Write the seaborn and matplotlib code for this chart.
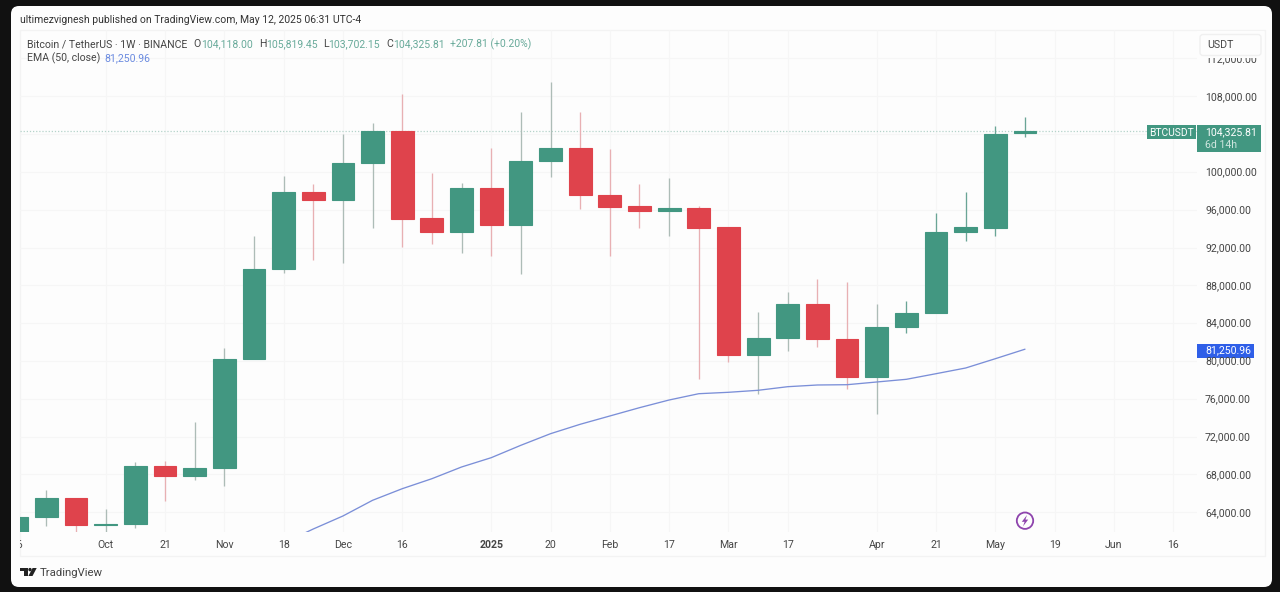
import numpy as np
import pandas as pd
import seaborn as sns
import matplotlib
matplotlib.use("Agg")
import matplotlib.pyplot as plt
from matplotlib.patches import FancyBboxPatch, Rectangle, Circle, Polygon
from matplotlib.transforms import Bbox

# weekly candles, position 0 is the "Oct" bar
weeks = list(range(-3, 32))
opens = [61948, 63471, 65481, 62688, 62762, 68929, 67871, 68654, 80215, 89702, 97846, 97032,
         100945, 104362, 95100, 93616, 98269, 94388, 101157, 102532, 97592, 96366, 95900, 96154,
         94140, 80606, 82436, 86000, 82298, 78310, 83600, 85048, 93616, 94102, 104118.00]
highs = [63503, 66390, 65481, 64381, 69352, 69394, 73519, 81378, 93224, 99539, 98756, 103981,
         105176, 108212, 99920, 98862, 102564, 106340, 109513, 106340, 102395, 98724, 99359, 96429,
         94140, 85186, 87333, 88644, 88391, 86000, 86349, 95625, 97846, 104859, 105819.45]
lows = [61500, 62519, 61948, 61948, 62371, 65227, 67448, 66782, 80215, 89279, 90686, 90400,
        94070, 92092, 92378, 91458, 91109, 89173, 99465, 96080, 91109, 94039, 93256, 78131,
        79866, 76544, 81061, 81484, 77073, 74365, 82996, 85048, 92695, 93256, 103702.15]
closes = [63503, 65481, 62688, 62762, 68929, 67871, 68654, 80246, 89734, 97846, 97032, 100977,
          104362, 95054, 93616, 98269, 94388, 101189, 102532, 97561, 96292, 95900, 96154, 94070,
          80606, 82467, 86000, 82298, 78279, 83631, 85112, 93616, 94144, 103981, 104325.81]

ema_weeks = list(range(6, 32))
ema_values = [60753, 62234, 63609, 65269, 66496, 67554, 68791, 69775, 71087, 72314, 73308, 74186,
              75064, 75878, 76544, 76692, 76904, 77285, 77465, 77496, 77782, 78067, 78660, 79263,
              80246, 81250.96]

price_ticks = [64000, 68000, 72000, 76000, 80000, 84000, 88000, 92000, 96000, 100000, 104000, 108000, 112000]
price_labels = ["64,000.00", "68,000.00", "72,000.00", "76,000.00", "80,000.00", "84,000.00", "88,000.00",
                "92,000.00", "96,000.00", "100,000.00", "", "108,000.00", "112,000.00"]
time_ticks = [0, 2, 4, 6, 8, 10, 13, 15, 17, 19, 21, 23, 26, 28, 30, 32, 34, 36]
time_labels = ["Oct", "21", "Nov", "18", "Dec", "16", "2025", "20", "Feb", "17", "Mar", "17", "Apr", "21",
               "May", "19", "Jun", "16"]

last_price = 104325.81
GREEN = "#429781"
RED = "#df434c"
BLUE = "#7b8fd8"
TEXT = "#454545"

sns.set_theme(style="white")
plt.rcParams["font.family"] = ["Roboto", "DejaVu Sans"]

fig = plt.figure(figsize=(12.8, 5.92), dpi=100, facecolor="#111111")

# pixel coordinate layers under and over the chart
bg = fig.add_axes([0, 0, 1, 1], zorder=0)
bg.set_xlim(0, 1280)
bg.set_ylim(592, 0)
bg.axis("off")
bg.add_patch(FancyBboxPatch((11, 6), 1261, 581, boxstyle="round,pad=0,rounding_size=8", lw=0, fc="#fdfdfd"))
bg.add_patch(Rectangle((20, 30), 1244.5, 526, fill=False, ec="#f3f3f3", lw=1))

ax = fig.add_axes([20 / 1280, 1 - 532 / 592, 1177 / 1280, 502 / 592], zorder=1)
ax.patch.set_alpha(0)
ax.set_xlim(-2.889, 36.8)
ax.set_ylim(61916, 115013)
for side in ax.spines.values():
    side.set_visible(False)
ax.set_yticks(price_ticks)
ax.set_xticks(time_ticks)
ax.tick_params(left=False, bottom=False, labelleft=False, labelbottom=False)
ax.grid(True, color="#f6f6f6", lw=0.9)
ax.set_axisbelow(True)

candles = pd.DataFrame({"week": weeks, "open": opens, "high": highs, "low": lows, "close": closes})
candles["up"] = candles["close"] >= candles["open"]
candles["color"] = np.where(candles["up"], GREEN, RED)
# wicks are faded except on the last few bars
candles["wick"] = np.where(candles["up"], "#adbcb7", "#e8b0b3")
candles.loc[candles["week"] >= 27, "wick"] = "#6aa596"

ax.vlines(candles["week"], candles["low"], candles["high"], colors=candles["wick"], lw=0.95, zorder=2)
ax.bar(candles["week"], (candles["close"] - candles["open"]).abs(),
       bottom=candles[["open", "close"]].min(axis=1), width=0.77,
       color=candles["color"], edgecolor=candles["color"], lw=0.8, zorder=3)

ax.axhline(last_price, color="#b5d3ca", lw=0.9, ls=(0, (1, 1.5)), zorder=1)

ema = pd.DataFrame({"week": ema_weeks, "ema": ema_values})
sns.lineplot(data=ema, x="week", y="ema", ax=ax, color=BLUE, lw=0.95, zorder=4)
ax.set_xlabel("")
ax.set_ylabel("")
ax.set_xlim(-2.889, 36.8)
ax.set_ylim(61916, 115013)

top = fig.add_axes([0, 0, 1, 1], zorder=2)
top.patch.set_alpha(0)
top.set_xlim(0, 1280)
top.set_ylim(592, 0)
top.axis("off")


def px_x(week):
    return 105.7 + 29.655 * week


def px_y(price):
    return 512.3 - (price - 64000) / 105.77


def txt(x, y, s, color=TEXT, size=7.7, **kw):
    kw.setdefault("va", "center")
    kw.setdefault("ha", "left")
    kw.setdefault("zorder", 6)
    return top.text(x, y, s, color=color, fontsize=size, **kw)


# price and time scales
for price, label in zip(price_ticks, price_labels):
    if label:
        zo = 3 if price == 112000 else 6
        txt(1205, px_y(price) + 0.5, label, size=7.6, zorder=zo)
for week, label in zip(time_ticks, time_labels):
    weight = "bold" if label == "2025" else "normal"
    txt(px_x(week), 544.5, label, ha="center", weight=weight, size=7.6)
cut = txt(px_x(-3), 544.5, "16", ha="center", size=7.6)
cut.set_clip_box(Bbox([[20, 0], [100, 592]]))
cut.set_clip_on(True)

# header
txt(20, 20, "ultimezvignesh published on TradingView.com, May 12, 2025 06:31 UTC-4", color="#333333", size=7.45)
txt(27, 44, "Bitcoin / TetherUS · 1W · BINANCE", size=7.6)
ohlc_teal = "#68aa9a"
for x_key, key, x_val, val in [(193.5, "O", 201.5, "104,118.00"), (258.8, "H", 265.7, "105,819.45"),
                               (323, "L", 328.6, "103,702.15"), (386, "C", 392.7, "104,325.81")]:
    txt(x_key, 44, key, size=7.6)
    txt(x_val, 44, val, color=ohlc_teal, size=7.5)
txt(449.8, 44, "+207.81 (+0.20%)", color=ohlc_teal, size=7.5)
txt(27, 58, "EMA (50, close)", size=7.6)
txt(104.5, 58, "81,250.96", color="#6b8be0", size=7.6)

# currency box hides the top of the 112,000 label
top.add_patch(Rectangle((1197, 31), 67, 26.5, fc="#fdfdfd", lw=0, zorder=4))
top.add_patch(FancyBboxPatch((1200, 34.5), 61, 21, boxstyle="round,pad=0,rounding_size=3", fc="#fdfdfd",
                             ec="#f0f0f0", lw=1, zorder=5))
txt(1207.5, 44.5, "USDT", size=7.7)

# price tags
top.add_patch(Rectangle((1147, 125.3), 49, 14, fc=GREEN, lw=0, zorder=5))
txt(1171.5, 132.5, "BTCUSDT", color="white", ha="center", size=7.4)
top.add_patch(Rectangle((1197, 125.3), 64, 27, fc=GREEN, lw=0, zorder=5))
txt(1205, 132, "104,325.81", color="white", size=7.6)
txt(1205, 144.5, "6d 14h", color="#cfe6df", size=7.6)
top.add_patch(Rectangle((1197, 343.7), 57, 14, fc="#2f5fe8", lw=0, zorder=5))
txt(1205, 350.5, "81,250.96", color="white", size=7.6)

# flash marker
flash = "#8e44ad"
top.add_patch(Circle((1025, 520.7), 8.2, fill=False, ec=flash, lw=1.3))
top.add_patch(Polygon([(1027, 515), (1021.8, 521.8), (1024.6, 521.8), (1023, 526.4), (1028.2, 519.6), (1025.4, 519.6)],
                      fc=flash, lw=0))

# footer logo
logo = "#222222"
top.add_patch(Polygon([(19.6, 568), (27.5, 568), (27.5, 576), (23.8, 576), (23.8, 571.2), (19.6, 571.2)], fc=logo, lw=0))
top.add_patch(Circle((30, 569.6), 1.7, fc=logo, lw=0))
top.add_patch(Polygon([(32.6, 568), (36.7, 568), (32.5, 576), (28.4, 576)], fc=logo, lw=0))
txt(40, 572.5, "TradingView", color="#444444", size=8.2)

fig.savefig("out.png", dpi=100, facecolor=fig.get_facecolor())
